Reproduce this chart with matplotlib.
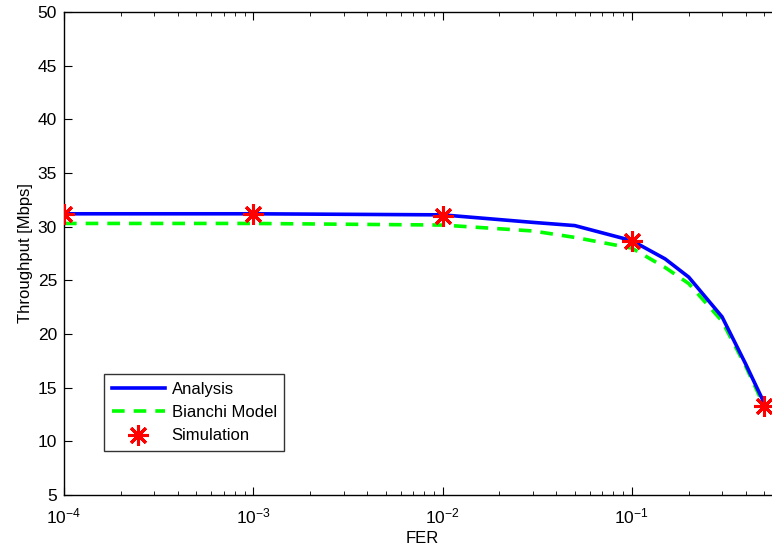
import math
import matplotlib
matplotlib.use("Agg")
import matplotlib.pyplot as plt

plt.rcParams["font.family"] = ["Liberation Sans", "DejaVu Sans"]
plt.rcParams["mathtext.fontset"] = "custom"
plt.rcParams["mathtext.rm"] = "Liberation Sans"
plt.rcParams["mathtext.it"] = "Liberation Sans:italic"
plt.rcParams["mathtext.default"] = "regular"

# data
fer = [1e-4, 1e-3, 1e-2, 0.03, 0.05, 0.1, 0.15, 0.2, 0.3, 0.4, 0.5]
analysis = [31.2, 31.2, 31.1, 30.4, 30.1, 28.7, 27.0, 25.3, 21.6, 17.2, 13.6]
bianchi = [30.3, 30.3, 30.15, 29.6, 29.0, 28.0, 26.2, 24.7, 21.2, 17.0, 13.3]
sim_fer = [1e-4, 1e-3, 1e-2, 0.1, 0.5]
simulation = [31.2, 31.2, 31.0, 28.7, 13.3]
xticks = [1e-4, 1e-3, 1e-2, 1e-1]

W, H = 772, 550
fig = plt.figure(figsize=(W / 100, H / 100), dpi=100)
fig.patch.set_facecolor("white")
# axes runs past the right edge of the picture (reference is cropped)
L, R, B, T = 64, 821, 495, 12
ax = fig.add_axes([L / W, (H - B) / H, (R - L) / W, (B - T) / H])

ax.plot(fer, analysis, color="#0000ff", lw=2.6, label="Analysis", zorder=3)
ax.plot(fer, bianchi, color="#00ff00", lw=2.6, ls=(0, (3.5, 2.5)), label="Bianchi Model", zorder=2)
ax.plot(sim_fer, simulation, ls="none", marker=(8, 2, 0), ms=15, mew=2.2,
        color="#ff0000", label="Simulation", zorder=4)

ax.set_xscale("log")
ax.set_xlim(1e-4, 1.0)
ax.set_xticks(xticks)
ax.set_xticklabels([r"$10^{%d}$" % round(math.log10(v)) for v in xticks])
ax.set_ylim(5, 50)
ax.set_yticks(range(5, 51, 5))

ax.tick_params(which="both", direction="in", top=True, right=True, labelsize=12.5, colors="black")
ax.tick_params(which="major", length=6, width=0.8, pad=5)
ax.tick_params(which="minor", length=3, width=0.6)
ax.tick_params(axis="x", which="major", pad=8)
for s in ax.spines.values():
    s.set_linewidth(1.0)

ax.set_ylabel("Throughput [Mbps]", fontsize=12, labelpad=3)
fig.text(422 / W, 1 - 543 / H, "FER", ha="center", va="baseline", fontsize=12)

leg = ax.legend(loc="lower left", bbox_to_anchor=((104 - L) / (R - L), (B - 451) / (B - T)),
                borderaxespad=0, fontsize=12, frameon=True, fancybox=False,
                edgecolor="black", handlelength=3.2, handletextpad=0.4,
                labelspacing=0.5, borderpad=0.45)
leg.get_frame().set_linewidth(1.0)

fig.savefig("out.png", dpi=100, facecolor="white")
